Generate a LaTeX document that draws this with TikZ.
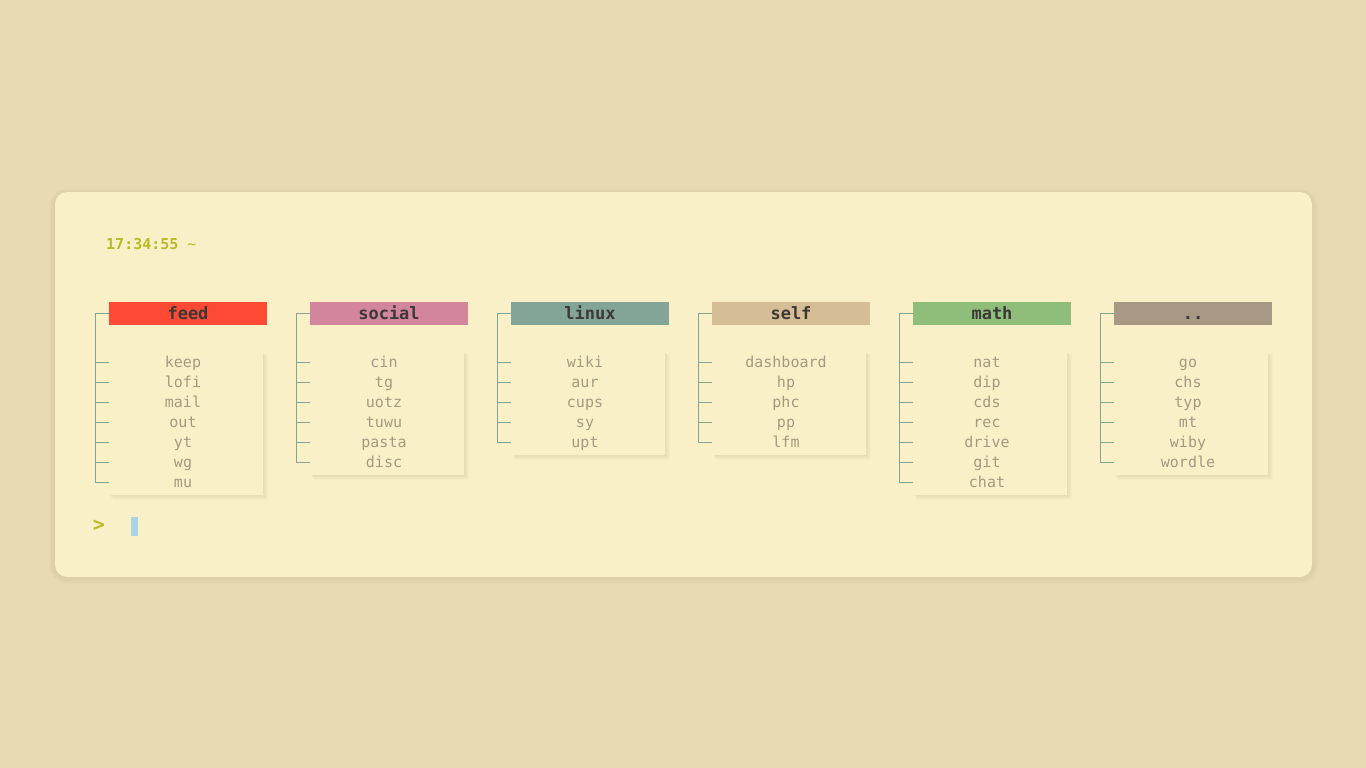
\documentclass[tikz,border=0pt]{standalone}
\usepackage{fontspec}
\setmonofont{DejaVu Sans Mono}
\definecolor{bgc}{HTML}{E8DAB2}
\definecolor{cardc}{HTML}{F9F0C8}
\definecolor{shadc}{HTML}{C9B88C}
\definecolor{clockc}{HTML}{B8BB26}
\definecolor{itemc}{HTML}{A89880}
\definecolor{linec}{HTML}{83A598}
\definecolor{headtxt}{HTML}{3C3836}
\definecolor{cfeed}{HTML}{FE4A34}
\definecolor{csocial}{HTML}{D3869B}
\definecolor{clinux}{HTML}{83A598}
\definecolor{cself}{HTML}{D5BD96}
\definecolor{cmath}{HTML}{8EBE7A}
\definecolor{cdots}{HTML}{A89984}
\definecolor{cursorc}{HTML}{A9D4E6}
\tikzset{
  head/.style={minimum width=158pt, minimum height=23pt, inner sep=0pt, anchor=north west},
  headtext/.style={font=\ttfamily\bfseries\fontsize{17}{17}\selectfont, text=headtxt, inner sep=0pt, anchor=base},
  item/.style={font=\ttfamily\fontsize{15}{15}\selectfont, text=itemc, inner sep=0pt, anchor=base},
  tree/.style={draw=linec, line width=1pt},
}
\newcommand{\mycol}[5]{%
  % #1 x, #2 id, #3 label, #4 colour, #5 list
  \begin{scope}[shift={(#1,0)}]
    \node[head, fill=#4] (h#2) at (0,302) {};
    \node[headtext] (t#2) at (79,319) {#3};
    \coordinate (top#2) at (-14,313);
    \draw[tree] (top#2) -- (h#2.west |- top#2);
    \foreach \t [count=\i] in {#5} {\global\let\lastcount\i}
    \pgfmathsetmacro{\ybot}{362+20*(\lastcount-1)+13}
    \foreach \o in {1,2,3,4,5}{
      \fill[shadc, opacity=0.07] (\o*0.8,352+\o*0.6) rectangle (154+\o*0.9,\ybot+\o*0.9);
    }
    \fill[cardc] (0,352) rectangle (154,\ybot);
    \foreach \t [count=\i] in {#5} {
      \pgfmathsetmacro{\yy}{362+20*(\i-1)}
      \node[item] (n#2\i) at (74,\yy+5) {\t};
      \coordinate (k#2\i) at (-14,\yy);
      \draw[tree] (k#2\i) -- ++(14,0);
    }
    \draw[tree] (top#2) -- (k#2\lastcount);
  \end{scope}
}
\begin{document}
\begin{tikzpicture}[x=1pt,y=-1pt]
\useasboundingbox (0,0) rectangle (1366,768);
\fill[bgc] (0,0) rectangle (1366,768);
% card shadow
\foreach \o in {1,2,3,4,5,6}{
  \fill[shadc, opacity=0.06, rounded corners=12pt+\o pt] (55-\o,192-\o*0.5) rectangle (1312+\o,577+\o*1.2);
}
\fill[cardc, rounded corners=12pt] (55,192) rectangle (1312,577);
\node[font=\ttfamily\bfseries\fontsize{15}{15}\selectfont, text=clockc, anchor=base west, inner sep=0pt] (clock) at (106,249) {17:34:55 \textmd{\char`\~}};
\mycol{109}{a}{feed}{cfeed}{keep,lofi,mail,out,yt,wg,mu}
\mycol{310}{b}{social}{csocial}{cin,tg,uotz,tuwu,pasta,disc}
\mycol{511}{c}{linux}{clinux}{wiki,aur,cups,sy,upt}
\mycol{712}{d}{self}{cself}{dashboard,hp,phc,pp,lfm}
\mycol{913}{e}{math}{cmath}{nat,dip,cds,rec,drive,git,chat}
\mycol{1114}{f}{..}{cdots}{go,chs,typ,mt,wiby,wordle}
\node[font=\ttfamily\bfseries\fontsize{20}{20}\selectfont, text=clockc, inner sep=0pt] (prompt) at (99,526) {>};
\fill[cursorc] (131,517) rectangle (138,536);
\end{tikzpicture}
\end{document}
